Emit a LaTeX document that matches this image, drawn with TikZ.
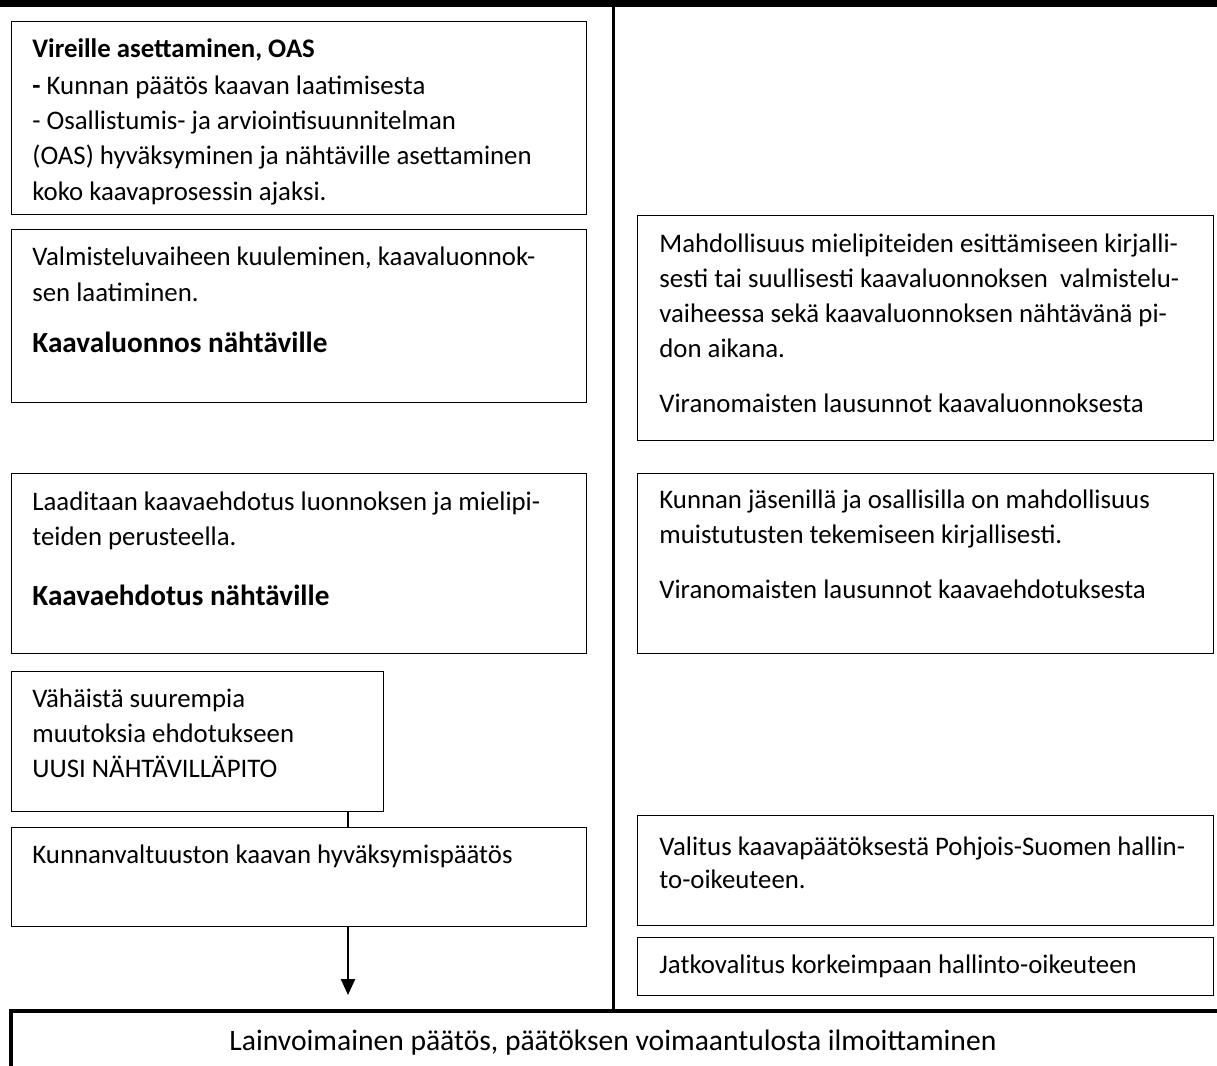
\documentclass[tikz,border=0pt]{standalone}
\usepackage{fontspec}
\setmainfont{Carlito}
\usetikzlibrary{arrows.meta}
\begin{document}
\begin{tikzpicture}[x=0.5pt, y=-0.5pt,
    box/.style={draw, line width=0.6pt, anchor=north west, inner sep=0pt},
    txt/.style={anchor=base west, inner sep=0pt, font=\fontsize{13.4}{16}\selectfont},
    head/.style={anchor=base west, inner sep=0pt, font=\fontsize{14.6}{17}\selectfont\bfseries},
    conn/.style={line width=1.2pt},
    arrow/.style={line width=1.2pt, -{Triangle[width=7pt, length=8pt]}}]
    \useasboundingbox (0,0) rectangle (1217,1066);

    % frame
    \draw[line width=3.3pt] (0,3.5) -- (1217,3.5);
    \draw[line width=1.5pt] (613,3.5) -- (613,1011);
    \draw[line width=2pt] (11,1066) |- (1217,1011);

    % left column
    \node[box, minimum width=287.5pt, minimum height=96.5pt] (vireille) at (11,21) {};
    \node[txt, font=\fontsize{13.4}{16}\selectfont\bfseries] (vireille-1) at (32,57) {Vireille asettaminen, OAS};
    \node[txt] (vireille-2) at (32,94) {\textbf{-} Kunnan päätös kaavan laatimisesta};
    \node[txt] (vireille-3) at (32,129) {- Osallistumis- ja arviointisuunnitelman};
    \node[txt] (vireille-4) at (32,164) {(OAS) hyväksyminen ja nähtäville asettaminen};
    \node[txt] (vireille-5) at (32,200) {koko kaavaprosessin ajaksi.};

    \node[box, minimum width=287.5pt, minimum height=86.5pt] (luonnos) at (11,229) {};
    \node[txt] (luonnos-1) at (32,265) {Valmisteluvaiheen kuuleminen, kaavaluonnok-};
    \node[txt] (luonnos-2) at (32,301) {sen laatiminen.};
    \node[head] (luonnos-3) at (32,352) {Kaavaluonnos nähtäville};

    \node[box, minimum width=287.5pt, minimum height=90pt] (ehdotus) at (11,473) {};
    \node[txt] (ehdotus-1) at (32,510) {Laaditaan kaavaehdotus luonnoksen ja mielipi-};
    \node[txt] (ehdotus-2) at (32,545) {teiden perusteella.};
    \node[head] (ehdotus-3) at (32,605) {Kaavaehdotus nähtäville};

    \node[box, minimum width=186pt, minimum height=70pt] (muutos) at (11,671) {};
    \node[txt] (muutos-1) at (32,707) {Vähäistä suurempia};
    \node[txt] (muutos-2) at (32,742) {muutoksia ehdotukseen};
    \node[txt] (muutos-3) at (32,777) {UUSI NÄHTÄVILLÄPITO};

    \node[box, minimum width=287.5pt, minimum height=49.5pt] (hyvaksy) at (11,827) {};
    \node[txt] (hyvaksy-1) at (32,863) {Kunnanvaltuuston kaavan hyväksymispäätös};

    % right column
    \node[box, minimum width=288pt, minimum height=112.5pt] (mielipide) at (637,215) {};
    \node[txt] (mielipide-1) at (659,252) {Mahdollisuus mielipiteiden esittämiseen kirjalli-};
    \node[txt] (mielipide-2) at (659,287) {sesti tai suullisesti kaavaluonnoksen\ \ valmistelu-};
    \node[txt] (mielipide-3) at (659,322) {vaiheessa sekä kaavaluonnoksen nähtävänä pi-};
    \node[txt] (mielipide-4) at (659,357) {don aikana.};
    \node[txt] (mielipide-5) at (659,412) {Viranomaisten lausunnot kaavaluonnoksesta};

    \node[box, minimum width=288pt, minimum height=90pt] (muistutus) at (637,473) {};
    \node[txt] (muistutus-1) at (659,508) {Kunnan jäsenillä ja osallisilla on mahdollisuus};
    \node[txt] (muistutus-2) at (659,543) {muistutusten tekemiseen kirjallisesti.};
    \node[txt] (muistutus-3) at (659,598) {Viranomaisten lausunnot kaavaehdotuksesta};

    \node[box, minimum width=288pt, minimum height=55pt] (valitus) at (637,815) {};
    \node[txt] (valitus-1) at (659,855) {Valitus kaavapäätöksestä Pohjois-Suomen hallin-};
    \node[txt] (valitus-2) at (659,888) {to-oikeuteen.};

    \node[box, minimum width=288pt, minimum height=29pt] (jatko) at (637,937) {};
    \node[txt] (jatko-1) at (659,973) {Jatkovalitus korkeimpaan hallinto-oikeuteen};

    % bottom
    \node[txt, anchor=base, font=\fontsize{14.8}{17}\selectfont] (paatos) at (613,1050) {Lainvoimainen päätös, päätöksen voimaantulosta ilmoittaminen};

    % connectors
    \coordinate (kink) at (348,0);
    \coordinate (tip) at (348,995);
    \draw[conn] (muutos.south -| kink) -- (hyvaksy.north -| kink);
    \draw[arrow] (hyvaksy.south -| kink) -- (tip);
\end{tikzpicture}
\end{document}
